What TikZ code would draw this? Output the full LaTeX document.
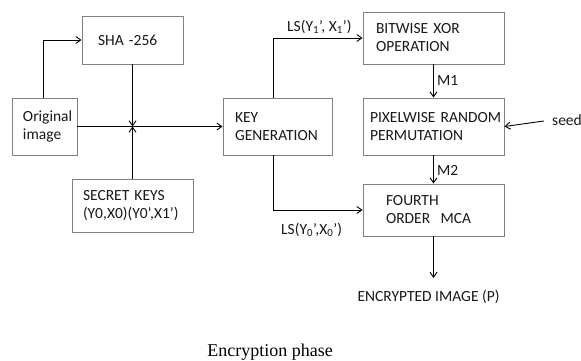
\documentclass[tikz,border=0pt]{standalone}
\usepackage{fontspec}
\setmainfont{Carlito}
\newfontfamily\capfont{Liberation Serif}
\usetikzlibrary{arrows.meta}
\definecolor{boxgray}{RGB}{128,128,128}
\definecolor{txt}{RGB}{25,25,25}
\tikzset{
  box/.style={draw=boxgray, line width=0.9pt, align=left, inner ysep=0pt, text=txt,
    font=\fontsize{15.5}{18}\selectfont},
  lab/.style={inner sep=0pt, text=txt, font=\fontsize{15.5}{18}\selectfont},
  arr/.style={draw=black, line width=0.9pt, -{Straight Barb[length=5pt,width=7pt]}},
  ln/.style={draw=black, line width=0.9pt}
}
\begin{document}
\begin{tikzpicture}[x=1pt,y=-1pt]
\useasboundingbox[fill=white] (0,0) rectangle (581,361);
% boxes
\node[box, minimum width=65, minimum height=57, inner xsep=11, text width=43] (orig) at (44.5,126.5) {\mbox{Original}\\image};
\node[box, minimum width=101, minimum height=48, inner xsep=16, text width=69] (sha) at (132.5,40) {SHA -256};
\node[box, minimum width=121, minimum height=53, inner xsep=11, text width=99] (sec) at (132.5,205.5) {\mbox{SECRET KEYS}\\\mbox{(Y0,X0)(Y0’,X1’)}};
\node[box, minimum width=109, minimum height=57, inner xsep=12, text width=85] (kg) at (277.5,126.5) {KEY\\\mbox{GENERATION}};
\node[box, minimum width=141, minimum height=52, inner xsep=13, text width=115] (bx) at (433.5,38) {\mbox{BITWISE XOR}\\OPERATION};
\node[box, minimum width=141, minimum height=57, inner xsep=7, text width=127] (px) at (433.5,126.5) {\mbox{PIXELWISE RANDOM}\\\mbox{PERMUTATION}};
\node[box, minimum width=141, minimum height=52, inner xsep=23, text width=95] (fo) at (433.5,210) {FOURTH\\\mbox{ORDER\ \ MCA}};
% labels
\node[lab, anchor=west] (l1) at (287,27) {LS(Y\textsubscript{1}’, X\textsubscript{1}’)};
\node[lab, anchor=west] (l0) at (281,230) {LS(Y\textsubscript{0}’,X\textsubscript{0}’)};
\node[lab, anchor=west] (m1) at (437,81) {M1};
\node[lab, anchor=west] (m2) at (437,170) {M2};
\node[lab, anchor=west] (seed) at (552,120) {seed};
\node[lab] (enc) at (428.5,297) {ENCRYPTED IMAGE (P)};
\node[inner sep=0pt, font=\capfont\fontsize{18}{20}\selectfont] (cap) at (270,352) {Encryption phase};
% coordinates
\coordinate (j) at (132.5,126.5);
\coordinate (seedc) at (544,121);
\coordinate (encend) at (433.5,278);
% connectors
\draw[arr] ([xshift=-1.5pt]orig.north) |- (sha.west);
\draw[arr] (orig.east) -- (kg.west);
\draw[arr] (sha.south) -- (j);
\draw[arr] (sec.north) -- (j);
\draw[arr] ([xshift=-4.5pt]kg.north) |- (bx.west);
\draw[arr] ([xshift=-4.5pt]kg.south) |- (fo.west);
\draw[arr] (bx.south) -- (px.north);
\draw[arr] (px.south) -- (fo.north);
\draw[arr] (seedc) -- (px.east);
\draw[arr] (fo.south) -- (encend);
\end{tikzpicture}
\end{document}
